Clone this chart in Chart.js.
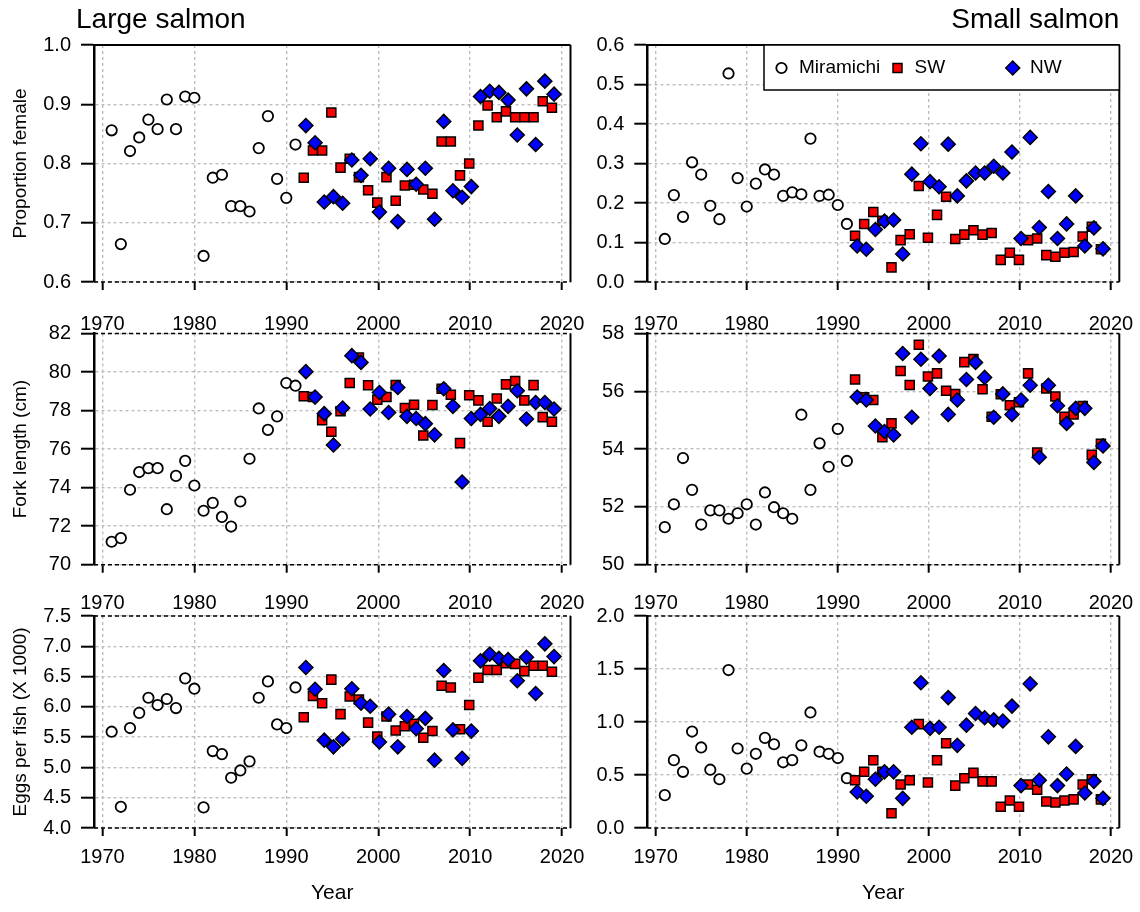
<!DOCTYPE html>
<html>
<head>
<meta charset="utf-8">
<title>Salmon biological characteristics</title>
<script src="https://cdn.jsdelivr.net/npm/chart.js@4.4.1/dist/chart.umd.min.js"></script>
<style>
  body { margin: 0; background: #fff; }
  #wrap { position: relative; width: 1140px; height: 912px; }
  #wrap canvas { position: absolute; left: 0; top: 0; }
</style>
</head>
<body>
<div id="wrap">
  <canvas id="propLarge" width="1140" height="912"></canvas>
  <canvas id="propSmall" width="1140" height="912"></canvas>
  <canvas id="flLarge" width="1140" height="912"></canvas>
  <canvas id="flSmall" width="1140" height="912"></canvas>
  <canvas id="eggsLarge" width="1140" height="912"></canvas>
  <canvas id="eggsSmall" width="1140" height="912"></canvas>
</div>
<script>
// ---------------- Datos ----------------
const mirYears = [1971, 1972, 1973, 1974, 1975, 1976, 1977, 1978, 1979, 1980, 1981,
  1982, 1983, 1984, 1985, 1986, 1987, 1988, 1989, 1990, 1991];
const seaYears = [1992, 1993, 1994, 1995, 1996, 1997, 1998, 1999, 2000, 2001, 2002, 2003, 2004, 2005,
  2006, 2007, 2008, 2009, 2010, 2011, 2012, 2013, 2014, 2015, 2016, 2017, 2018, 2019];

// proportion female
const mirPropLarge = [0.856, 0.664, 0.821, 0.844, 0.874, 0.858, 0.908, 0.858, 0.913, 0.911, 0.644,
  0.776, 0.781, 0.728, 0.728, 0.719, 0.826, 0.880, 0.774, 0.742, 0.832];
const swPropLarge = [0.776, 0.822, 0.822, 0.886, 0.793, 0.808, 0.777, 0.755, 0.734, 0.777, 0.737, 0.763, 0.764, 0.756,
  0.749, 0.837, 0.837, 0.780, 0.800, 0.864, 0.898, 0.878, 0.888, 0.878, 0.878, 0.878, 0.905, 0.894];
const nwPropLarge = [0.864, 0.835, 0.735, 0.744, 0.733, 0.806, 0.780, 0.808, 0.718, 0.792, 0.702, 0.790, 0.765, 0.792,
  0.706, 0.871, 0.754, 0.743, 0.761, 0.913, 0.922, 0.920, 0.907, 0.848, 0.926, 0.832, 0.939, 0.917];

const mirPropSmall = [0.109, 0.220, 0.165, 0.303, 0.272, 0.193, 0.159, 0.528, 0.263, 0.191, 0.249,
  0.285, 0.272, 0.218, 0.227, 0.222, 0.363, 0.218, 0.221, 0.195, 0.147];
const swPropSmall = [0.117, 0.147, 0.177, 0.155, 0.037, 0.106, 0.121, 0.243, 0.112, 0.170, 0.216, 0.109, 0.120, 0.131,
  0.120, 0.124, 0.056, 0.074, 0.056, 0.106, 0.110, 0.068, 0.064, 0.074, 0.076, 0.115, 0.140, 0.083];
const nwPropSmall = [0.091, 0.083, 0.133, 0.154, 0.157, 0.071, 0.273, 0.350, 0.254, 0.241, 0.349, 0.218, 0.256, 0.276,
  0.276, 0.293, 0.276, 0.329, 0.110, 0.366, 0.138, 0.229, 0.110, 0.147, 0.218, 0.091, 0.137, 0.084];

// fork length (cm)
const mirFlLarge = [71.19, 71.38, 73.89, 74.81, 75.01, 75.01, 72.88, 74.61, 75.39, 74.11, 72.80,
  73.21, 72.48, 71.98, 73.28, 75.50, 78.11, 77.00, 77.70, 79.43, 79.29];
const swFlLarge = [78.74, 78.70, 77.50, 76.90, 77.96, 79.43, 80.75, 79.31, 78.56, 78.70, 79.32, 78.13, 78.30, 76.71,
  78.29, 79.13, 78.82, 76.31, 78.80, 78.53, 77.42, 78.63, 79.36, 79.53, 78.53, 79.32, 77.66, 77.42];
const nwFlLarge = [80.02, 78.70, 77.84, 76.21, 78.13, 80.85, 80.50, 78.08, 78.94, 77.90, 79.20, 77.70, 77.59, 77.32,
  76.74, 79.13, 78.22, 74.29, 77.59, 77.80, 78.11, 77.70, 78.22, 79.03, 77.56, 78.42, 78.42, 78.08];

const mirFlSmall = [51.30, 52.09, 53.69, 52.59, 51.39, 51.88, 51.88, 51.59, 51.78, 52.09, 51.39,
  52.50, 51.99, 51.78, 51.59, 55.19, 52.59, 54.20, 53.39, 54.70, 53.59];
const swFlSmall = [56.41, 55.79, 55.70, 54.41, 54.89, 56.70, 56.22, 57.61, 56.51, 56.62, 56.02, 55.91, 57.01, 57.12,
  56.07, 55.12, 55.90, 55.52, 55.62, 56.62, 53.88, 56.10, 55.82, 55.12, 55.20, 55.49, 53.80, 54.18];
const nwFlSmall = [55.80, 55.70, 54.80, 54.61, 54.49, 57.31, 55.10, 57.11, 56.10, 57.22, 55.20, 55.70, 56.41, 57.00,
  56.48, 55.10, 55.91, 55.20, 55.70, 56.21, 53.72, 56.21, 55.50, 54.89, 55.41, 55.41, 53.54, 54.11];

// eggs per fish (x 1000)
const mirEggsLarge = [5.59, 4.35, 5.65, 5.90, 6.15, 6.03, 6.13, 5.98, 6.47, 6.30, 4.34,
  5.27, 5.22, 4.83, 4.95, 5.10, 6.15, 6.42, 5.71, 5.65, 6.32];
const swEggsLarge = [5.83, 6.18, 6.06, 6.45, 5.88, 6.17, 6.12, 5.74, 5.51, 5.84, 5.61, 5.68, 5.72, 5.49,
  5.60, 6.35, 6.32, 5.63, 6.03, 6.48, 6.61, 6.61, 6.72, 6.71, 6.59, 6.68, 6.68, 6.58];
const nwEggsLarge = [6.65, 6.29, 5.45, 5.34, 5.47, 6.30, 6.06, 6.01, 5.42, 5.88, 5.34, 5.84, 5.64, 5.81,
  5.12, 6.60, 5.62, 5.15, 5.60, 6.76, 6.87, 6.80, 6.78, 6.43, 6.82, 6.22, 7.04, 6.83];

const mirEggsSmall = [0.31, 0.64, 0.53, 0.91, 0.76, 0.55, 0.46, 1.49, 0.75, 0.56, 0.70,
  0.85, 0.79, 0.62, 0.64, 0.78, 1.09, 0.72, 0.70, 0.66, 0.47];
const swEggsSmall = [0.45, 0.53, 0.64, 0.53, 0.14, 0.41, 0.45, 0.98, 0.43, 0.64, 0.80, 0.40, 0.47, 0.52,
  0.44, 0.44, 0.20, 0.26, 0.20, 0.41, 0.36, 0.25, 0.24, 0.26, 0.27, 0.41, 0.46, 0.27];
const nwEggsSmall = [0.34, 0.30, 0.46, 0.53, 0.53, 0.28, 0.95, 1.37, 0.94, 0.95, 1.23, 0.78, 0.97, 1.08,
  1.04, 1.02, 1.01, 1.15, 0.40, 1.36, 0.45, 0.86, 0.40, 0.51, 0.77, 0.33, 0.44, 0.28];

// tick labels
const yearTicks = [1970, 1980, 1990, 2000, 2010, 2020];
const propLargeTicks = [0.6, 0.7, 0.8, 0.9, 1.0];
const propSmallTicks = [0.0, 0.1, 0.2, 0.3, 0.4, 0.5, 0.6];
const flLargeTicks = [70, 72, 74, 76, 78, 80, 82];
const flSmallTicks = [50, 52, 54, 56, 58];
const eggsLargeTicks = [4.0, 4.5, 5.0, 5.5, 6.0, 6.5, 7.0, 7.5];
const eggsSmallTicks = [0.0, 0.5, 1.0, 1.5, 2.0];

// ---------------- Estilo / posiciones ----------------
const FONT = '"Liberation Sans", Arial, sans-serif';
const GRID = '#bdbdbd';
const SW_SHIFT = -0.1;   // small dodge so squares and diamonds don't fully overlap
const NW_SHIFT = 0.13;
const ROWS = [
  { top: 45, bottom: 282, labelPad: 22, axisH: 60 },
  { top: 333.5, bottom: 564.7, labelPad: 19, axisH: 60 },
  { top: 616, bottom: 828, labelPad: 9, axisH: 80 }
];
const COLS = [
  { left: 94, right: 570.5, axisW: 94 },
  { left: 647.3, right: 1119.3, axisW: 60 }
];

// frame: right border, top and bottom edges
const framePlugin = (rowIdx) => ({
  id: 'frame',
  beforeDatasetsDraw(chart) {
    const { ctx, chartArea: a } = chart;
    ctx.save();
    ctx.strokeStyle = '#000';
    ctx.lineWidth = 2;
    ctx.beginPath(); ctx.moveTo(a.right, a.top); ctx.lineTo(a.right, a.bottom); ctx.stroke();
    if (rowIdx === 0) {
      ctx.beginPath(); ctx.moveTo(a.left, a.top); ctx.lineTo(a.right, a.top); ctx.stroke();
    } else {
      ctx.lineWidth = 1.5;
      ctx.setLineDash([4, 3]);
      ctx.beginPath(); ctx.moveTo(a.left, a.top); ctx.lineTo(a.right, a.top); ctx.stroke();
    }
    ctx.lineWidth = 1.5;
    ctx.setLineDash([4, 3]);
    ctx.beginPath(); ctx.moveTo(a.left, a.bottom); ctx.lineTo(a.right, a.bottom); ctx.stroke();
    ctx.restore();
  }
});

const headerPlugin = (text, side) => ({
  id: 'header',
  afterDraw(chart) {
    const { ctx, chartArea: a } = chart;
    ctx.save();
    ctx.fillStyle = '#000';
    ctx.font = '28px ' + FONT;
    ctx.textBaseline = 'middle';
    if (side === 'left') { ctx.textAlign = 'left'; ctx.fillText(text, 76, 20); }
    else { ctx.textAlign = 'right'; ctx.fillText(text, a.right, 20); }
    ctx.restore();
  }
});

const legendPlugin = {
  id: 'boxLegend',
  afterDatasetsDraw(chart) {
    const { ctx, chartArea: a } = chart;
    const x0 = 764, y0 = a.top, x1 = a.right, y1 = 90, cy = 68;
    ctx.save();
    ctx.fillStyle = '#fff';
    ctx.fillRect(x0, y0, x1 - x0, y1 - y0);
    ctx.strokeStyle = '#000';
    ctx.lineWidth = 1.5;
    ctx.strokeRect(x0, y0, x1 - x0, y1 - y0);
    // circle
    ctx.lineWidth = 1.8;
    ctx.beginPath(); ctx.arc(781.5, cy, 5.2, 0, Math.PI * 2); ctx.fill(); ctx.stroke();
    // square
    ctx.lineWidth = 1.5;
    ctx.fillStyle = '#ff0000';
    ctx.fillRect(893, cy - 4.5, 9, 9); ctx.strokeRect(893, cy - 4.5, 9, 9);
    // diamond
    ctx.fillStyle = '#0000ff';
    ctx.beginPath();
    ctx.moveTo(1012.7 - 7, cy); ctx.lineTo(1012.7, cy - 7); ctx.lineTo(1012.7 + 7, cy); ctx.lineTo(1012.7, cy + 7);
    ctx.closePath(); ctx.fill(); ctx.stroke();
    ctx.fillStyle = '#000';
    ctx.font = '19px ' + FONT;
    ctx.textBaseline = 'middle';
    ctx.textAlign = 'left';
    ctx.fillText('Miramichi', 799, cy);
    ctx.fillText('SW', 914.5, cy);
    ctx.fillText('NW', 1030, cy);
    ctx.restore();
  }
};

function panel(canvasId, spec) {
  const row = ROWS[spec.row];
  const col = COLS[spec.col];
  const xh = row.axisH;
  const ticks = spec.ticks;
  const datasets = [
    { label: 'Miramichi', data: mirYears.map((x, i) => ({ x: x, y: spec.mir[i] })),
      pointStyle: 'circle', radius: 5.2, backgroundColor: '#fff', borderColor: '#000', borderWidth: 1.8, order: 2 },
    { label: 'SW', data: seaYears.map((x, i) => ({ x: x + SW_SHIFT, y: spec.sw[i] })),
      pointStyle: 'rect', radius: 6.4, backgroundColor: '#ff0000', borderColor: '#000', borderWidth: 1.5, order: 1 },
    { label: 'NW', data: seaYears.map((x, i) => ({ x: x + NW_SHIFT, y: spec.nw[i] })),
      pointStyle: 'rectRot', radius: 7, backgroundColor: '#0000ff', borderColor: '#000', borderWidth: 1.5, order: 0 }
  ];
  const extra = [framePlugin(spec.row)].concat(spec.plugins || []);
  return new Chart(document.getElementById(canvasId), {
    type: 'scatter',
    data: { datasets },
    options: {
      responsive: false, animation: false, devicePixelRatio: 1,
      layout: { padding: { left: col.left - col.axisW, right: 1140 - col.right, top: row.top, bottom: 912 - row.bottom - xh } },
      plugins: { legend: { display: false }, tooltip: { enabled: false } },
      scales: {
        x: {
          type: 'linear', min: 1969.08, max: 2020.92,
          afterFit: s => { s.height = xh; s.paddingLeft = 0; s.paddingRight = 0; },
          afterBuildTicks: s => { s.ticks = yearTicks.map(v => ({ value: v })); },
          ticks: { font: { family: FONT, size: 20 }, color: '#000', padding: row.labelPad, maxRotation: 0, autoSkip: false, callback: v => String(v) },
          grid: { color: GRID, lineWidth: 1.4, tickLength: 8, tickColor: '#000', tickWidth: 2 },
          border: { display: false, dash: [3, 3] },
          title: { display: spec.row === 2, text: 'Year', font: { family: FONT, size: 21 }, color: '#000', padding: 2 }
        },
        y: {
          min: ticks[0], max: ticks[ticks.length - 1],
          afterFit: s => { s.width = col.axisW; s.paddingTop = 0; s.paddingBottom = 0; },
          afterBuildTicks: s => { s.ticks = ticks.map(v => ({ value: v })); },
          ticks: { font: { family: FONT, size: 20 }, color: '#000', padding: 10, callback: v => v.toFixed(spec.dec) },
          grid: { color: GRID, lineWidth: 1.4, tickLength: 13, tickColor: '#000', tickWidth: 2 },
          border: { display: true, color: '#000', width: 2.5, dash: [3, 3] },
          title: { display: spec.col === 0, text: spec.title || '', font: { family: FONT, size: 19 }, color: '#000', padding: 9 }
        }
      }
    },
    plugins: extra
  });
}

panel('propLarge', { row: 0, col: 0, mir: mirPropLarge, sw: swPropLarge, nw: nwPropLarge, ticks: propLargeTicks, dec: 1,
  title: 'Proportion female', plugins: [headerPlugin('Large salmon', 'left')] });
panel('propSmall', { row: 0, col: 1, mir: mirPropSmall, sw: swPropSmall, nw: nwPropSmall, ticks: propSmallTicks, dec: 1,
  plugins: [headerPlugin('Small salmon', 'right'), legendPlugin] });
panel('flLarge', { row: 1, col: 0, mir: mirFlLarge, sw: swFlLarge, nw: nwFlLarge, ticks: flLargeTicks, dec: 0,
  title: 'Fork length (cm)' });
panel('flSmall', { row: 1, col: 1, mir: mirFlSmall, sw: swFlSmall, nw: nwFlSmall, ticks: flSmallTicks, dec: 0 });
panel('eggsLarge', { row: 2, col: 0, mir: mirEggsLarge, sw: swEggsLarge, nw: nwEggsLarge, ticks: eggsLargeTicks, dec: 1,
  title: 'Eggs per fish (X 1000)' });
panel('eggsSmall', { row: 2, col: 1, mir: mirEggsSmall, sw: swEggsSmall, nw: nwEggsSmall, ticks: eggsSmallTicks, dec: 1 });
</script>
</body>
</html>
